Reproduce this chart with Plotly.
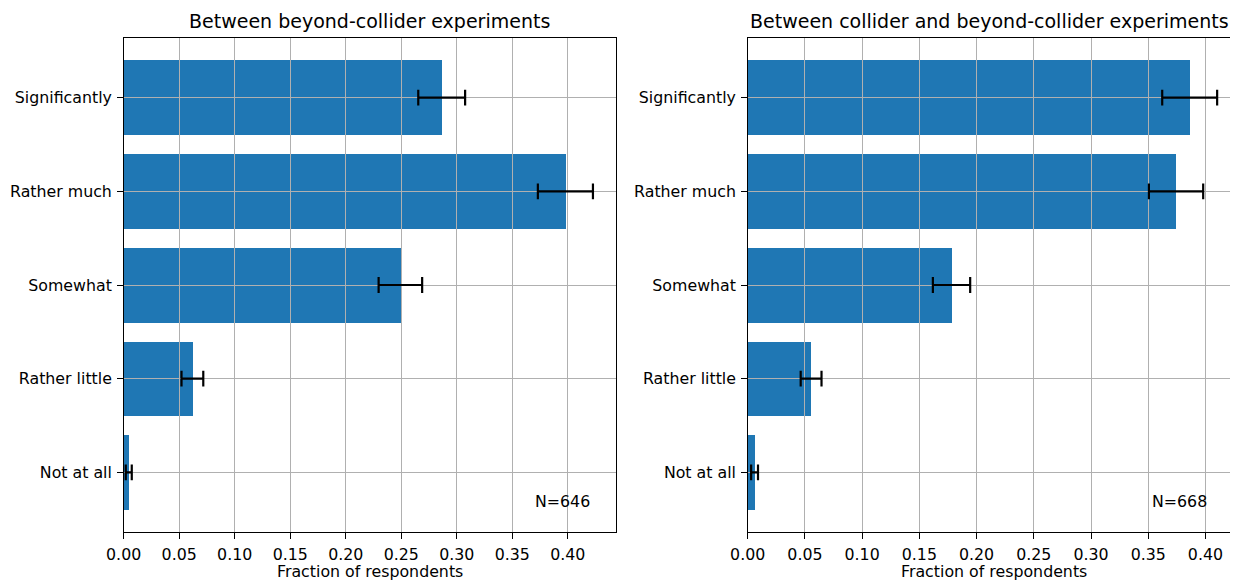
import plotly.graph_objects as go

# ---------------- data ----------------
CATEGORIES = ["Significantly", "Rather much", "Somewhat", "Rather little", "Not at all"]

LEFT_TITLE = "Between beyond-collider experiments"
LEFT_VALUES = [0.2864, 0.3978, 0.2492, 0.0619, 0.0046]
LEFT_ERRORS = [0.0211, 0.0248, 0.0196, 0.0098, 0.0027]
LEFT_N_LABEL = "N=646"

RIGHT_TITLE = "Between collider and beyond-collider experiments"
RIGHT_VALUES = [0.3862, 0.3743, 0.1781, 0.0554, 0.0060]
RIGHT_ERRORS = [0.0240, 0.0237, 0.0163, 0.0091, 0.0030]
RIGHT_N_LABEL = "N=668"

X_TICKS = [0.00, 0.05, 0.10, 0.15, 0.20, 0.25, 0.30, 0.35, 0.40]
X_TICK_LABELS = ["0.00", "0.05", "0.10", "0.15", "0.20", "0.25", "0.30", "0.35", "0.40"]
X_LABEL = "Fraction of respondents"

# ---------------- style / layout ----------------
W, H = 1238, 580
FONT = "DejaVu Sans"
TICK_SIZE = 15.8
TITLE_SIZE = 19
BAR_COLOR = "#1f77b4"
GRID_COLOR = "#b0b0b0"

# page offset of the plotting area (body margin + observed left offset)
OX, OY = 25.5, 8.0
PW = W - 17.5


def fx(px):
    return (px - OX) / PW


def fy(py):
    return 1 - (py - OY) / H


Y_DOMAIN = [fy(532.3), fy(37.7)]
LEFT_DOMAIN = [fx(123.2), fx(616.0)]
RIGHT_DOMAIN = [fx(747.5), fx(1240.6)]
LEFT_RANGE = [0, 0.4436]
RIGHT_RANGE = [0, 0.4307]
Y_RANGE = [4.64, -0.64]

fig = go.Figure()


def add_panel(values, errors, xa, ya, xb, yb, xdomain, xrange):
    # bars on base subplot
    fig.add_trace(go.Bar(
        x=values, y=CATEGORIES, orientation="h", width=0.8,
        marker=dict(color=BAR_COLOR, line=dict(width=0)),
        xaxis=xa, yaxis=ya, hoverinfo="skip",
    ))
    # error bars on top subplot (whose grid is drawn above the bars)
    fig.add_trace(go.Scatter(
        x=values, y=CATEGORIES, mode="markers",
        marker=dict(size=1, color="rgba(0,0,0,0)"),
        error_x=dict(type="data", array=errors, visible=True,
                     color="black", thickness=2.2, width=7.9),
        xaxis=xb, yaxis=yb, hoverinfo="skip",
    ))
    ka = "xaxis" if xa == "x" else xa.replace("x", "xaxis")
    kya = "yaxis" if ya == "y" else ya.replace("y", "yaxis")
    kb = xb.replace("x", "xaxis")
    kyb = yb.replace("y", "yaxis")
    fig.layout[ka] = dict(domain=xdomain, range=xrange, anchor=ya, visible=False)
    fig.layout[kya] = dict(domain=Y_DOMAIN, range=Y_RANGE, anchor=xa, type="category",
                           categoryorder="array", categoryarray=CATEGORIES, visible=False)
    fig.layout[kb] = dict(
        domain=xdomain, range=xrange, anchor=yb,
        showgrid=True, gridcolor=GRID_COLOR, gridwidth=1.1, zeroline=False,
        tickmode="array", tickvals=X_TICKS, ticktext=X_TICK_LABELS,
        ticks="outside", ticklen=5.5, tickwidth=1.2, tickcolor="black",
        ticklabelstandoff=2,
        tickfont=dict(family=FONT, size=TICK_SIZE, color="black"),
        showline=True, linecolor="black", linewidth=1.2, mirror=True,
    )
    fig.layout[kyb] = dict(
        domain=Y_DOMAIN, range=Y_RANGE, anchor=xb, type="category",
        categoryorder="array", categoryarray=CATEGORIES,
        showgrid=True, gridcolor=GRID_COLOR, gridwidth=1.1, zeroline=False,
        ticks="outside", ticklen=5.5, tickwidth=1.2, tickcolor="black",
        ticklabelstandoff=2,
        tickfont=dict(family=FONT, size=TICK_SIZE, color="black"),
        showline=True, linecolor="black", linewidth=1.2, mirror=True,
    )


add_panel(LEFT_VALUES, LEFT_ERRORS, "x", "y", "x2", "y2", LEFT_DOMAIN, LEFT_RANGE)
add_panel(RIGHT_VALUES, RIGHT_ERRORS, "x3", "y3", "x4", "y4", RIGHT_DOMAIN, RIGHT_RANGE)

left_cx = fx((123.2 + 616.0) / 2)
right_cx = fx(993.8)


def label(text, x, y, size, xanchor="center"):
    return dict(text=text, x=x, y=y, xref="paper", yref="paper",
                xanchor=xanchor, yanchor="middle", showarrow=False,
                font=dict(family=FONT, size=size, color="black"))


annotations = [
    label(LEFT_TITLE, left_cx, fy(21.5), TITLE_SIZE),
    label(RIGHT_TITLE, fx(989.5), fy(21.5), TITLE_SIZE),
    label(X_LABEL, left_cx, fy(571.5), TICK_SIZE),
    label(X_LABEL, right_cx, fy(571.5), TICK_SIZE),
    label(LEFT_N_LABEL, fx(592), fy(501), TICK_SIZE, "right"),
    label(RIGHT_N_LABEL, fx(1209), fy(501), TICK_SIZE, "right"),
]

fig.update_layout(
    width=W, height=H,
    margin=dict(l=0, r=0, t=0, b=0),
    paper_bgcolor="white", plot_bgcolor="rgba(0,0,0,0)",
    showlegend=False, bargap=0,
    font=dict(family=FONT, color="black"),
    annotations=annotations,
)

fig.write_html("out.html")
